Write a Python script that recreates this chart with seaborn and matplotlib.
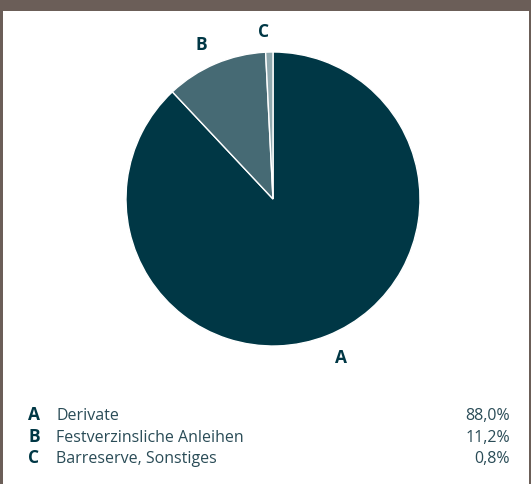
import matplotlib
matplotlib.use('Agg')
import matplotlib.pyplot as plt
import matplotlib.patches as mpatches
import seaborn as sns

# data
letters = ['A', 'B', 'C']
names = ['Derivate', 'Festverzinsliche Anleihen', 'Barreserve, Sonstiges']
shares = [88.0, 11.2, 0.8]
value_labels = ['88,0%', '11,2%', '0,8%']
colors = ['#003745', '#466a74', '#8fa8ae']

sns.set_theme(style='white')
plt.rcParams['font.family'] = ['Open Sans', 'DejaVu Sans']

W, H = 531, 484
fig = plt.figure(figsize=(W / 100, H / 100), dpi=100)
fig.patch.set_facecolor('white')

# frame: brown bar on top, thin sides
frame_col = '#6b5e58'
fig.add_artist(mpatches.Rectangle((0, 1 - 11 / H), 1, 11 / H, transform=fig.transFigure,
                                  color=frame_col, lw=0))
fig.add_artist(mpatches.Rectangle((0, 0), 3 / W, 1, transform=fig.transFigure,
                                  color=frame_col, lw=0))
fig.add_artist(mpatches.Rectangle((1 - 2 / W, 0), 2 / W, 1, transform=fig.transFigure,
                                  color=frame_col, lw=0))

# pie centre (273,199) radius 147 px
cx, cy, r = 273, 199, 147
ax = fig.add_axes([(cx - r) / W, (H - cy - r) / H, 2 * r / W, 2 * r / H])
wedges, texts = ax.pie(shares, colors=colors, labels=letters, startangle=90,
                       counterclock=False, labeldistance=1.15,
                       wedgeprops=dict(edgecolor='white', linewidth=1),
                       textprops=dict(fontsize=12.5, fontweight='bold', color='#003745'))
ax.set_xlim(-1, 1)
ax.set_ylim(-1, 1)
ax.set_aspect('equal')
ax.axis('off')
for t in texts:
    t.set_clip_on(False)
    t.set_va('center_baseline')

# legend table at the bottom (baselines)
row_y = [420, 442.5, 463]
txt_col = '#2a4c57'
for let, name, val, y in zip(letters, names, value_labels, row_y):
    fy = 1 - y / H
    fig.text(28 / W, fy, let, fontsize=12.5, fontweight='bold', color='#003745', va='baseline')
    fig.text(56 / W, fy, name, fontsize=11.5, color=txt_col, va='baseline')
    fig.text(510 / W, fy, val, fontsize=11.5, color=txt_col, va='baseline', ha='right')

fig.savefig('out.png', dpi=100, facecolor='white')
